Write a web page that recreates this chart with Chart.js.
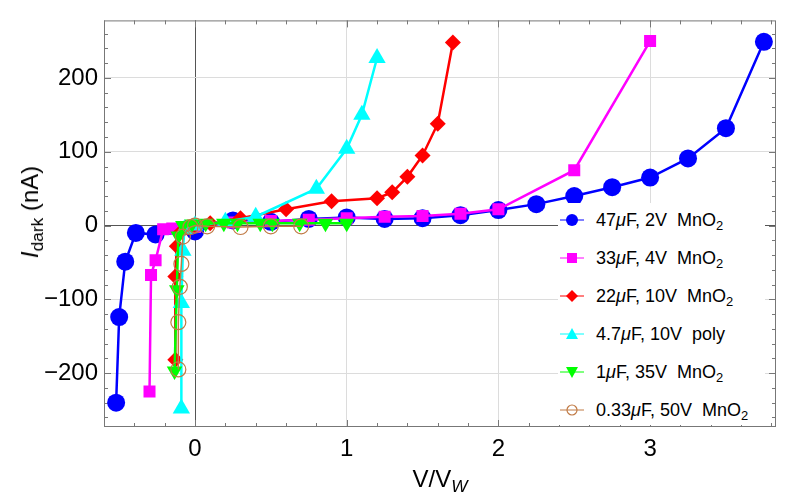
<!DOCTYPE html>
<html>
<head>
<meta charset="utf-8">
<script src="https://cdn.jsdelivr.net/npm/chart.js@4.4.1/dist/chart.umd.min.js"></script>
<style>
  body { margin: 0; background: #fff; font-family: "Liberation Sans", Arial, sans-serif; }
  #wrap { position: relative; width: 789px; height: 501px; }
  #ytitle { position: absolute; left: 30px; top: 212px; transform: translate(-50%, -50%) rotate(-90deg); font-size: 24px; white-space: nowrap; }
  #xtitle { position: absolute; left: 440px; top: 479px; transform: translate(-50%, -50%); font-size: 24px; white-space: nowrap; }
  #legend { position: absolute; left: 558px; top: 203px; width: 207px; height: 222px; background: #fff; font-size: 18px; }
  .row { position: absolute; left: 2px; height: 26px; display: flex; align-items: center; white-space: nowrap; }
  .row svg { margin-right: 12px; }
  sub { font-size: 72%; vertical-align: -0.3em; line-height: 0; }
</style>
</head>
<body>
<div id="wrap">
  <canvas id="chart" width="789" height="501"></canvas>
  <div id="ytitle"><i>I</i><sub>dark</sub> (nA)</div>
  <div id="xtitle">V/V<sub><i>W</i></sub></div>
  <div id="legend"></div>
</div>
<script>
// series labels (html for the legend)
var seriesLabels = [
  '47<i>μ</i>F, 2V&nbsp; MnO<sub>2</sub>',
  '33<i>μ</i>F, 4V&nbsp; MnO<sub>2</sub>',
  '22<i>μ</i>F, 10V&nbsp; MnO<sub>2</sub>',
  '4.7<i>μ</i>F, 10V&nbsp; poly',
  '1<i>μ</i>F, 35V&nbsp; MnO<sub>2</sub>',
  '0.33<i>μ</i>F, 50V&nbsp; MnO<sub>2</sub>'
];
var seriesNames = ['47μF, 2V MnO2', '33μF, 4V MnO2', '22μF, 10V MnO2', '4.7μF, 10V poly', '1μF, 35V MnO2', '0.33μF, 50V MnO2'];

// [V/Vw, I_dark nA]
var cap47 = [[-0.52,-240],[-0.5,-124],[-0.46,-49],[-0.39,-10],[-0.26,-12],[0,-8],[0.25,7],[0.5,5],[0.75,9],
  [1.0,11],[1.25,9],[1.5,10],[1.75,14],[2.0,21],[2.25,29],[2.5,40],[2.75,52],[3.0,65],[3.25,91],[3.5,132],[3.75,249]];
var cap33 = [[-0.3,-225],[-0.29,-67],[-0.26,-47],[-0.21,-5],[-0.15,-4],[0,-2],[0.25,4],[0.5,6],[0.75,8],
  [1.0,10],[1.25,12],[1.5,13],[1.75,16],[2.0,22],[2.5,75],[3.0,250]];
var cap22 = [[-0.13,-182],[-0.13,-69],[-0.12,-28],[-0.1,-10],[-0.05,-3],[0,0],[0.1,3],[0.3,10],[0.6,22],
  [0.9,33],[1.2,37],[1.3,45],[1.4,66],[1.5,95],[1.6,138],[1.7,248]];
var cap4_7 = [[-0.09,-248],[-0.09,-105],[-0.08,-34],[-0.07,-5],[0,0],[0.2,5],[0.4,12],[0.8,50],[1.0,104],[1.1,150],[1.2,227]];
var cap1 = [[-0.135,-197],[-0.12,-87],[-0.11,-14],[-0.08,0],[-0.02,2],[0.07,3],[0.19,3],[0.28,3],[0.43,3],
  [0.51,3],[0.69,3],[0.86,3],[1.0,3]];
var cap0_33 = [[-0.11,-195],[-0.11,-131],[-0.1,-83],[-0.09,-52],[-0.08,-15],[-0.03,-2],[0,0],[0.08,-1],[0.3,-2],[0.5,-1],[0.7,-1]];

var xTicks = [0, 1, 2, 3];
var yTicks = [-200, -100, 0, 100, 200];

var colors = ['#0000ff', '#ff00ff', '#ff0000', '#00ffff', '#00ff00', '#c07a45'];
var styles = ['circle', 'rect', 'rectRot', 'triangle', 'triangle', 'circle'];
var sizes = [9, 8.5, 8, 10, 9, 7.5];
var rots = [0, 0, 0, 0, 180, 0];
var allData = [cap47, cap33, cap22, cap4_7, cap1, cap0_33];

var datasets = allData.map(function(d, i) {
  var open = i === 5;
  return {
    label: seriesNames[i],
    data: d.map(function(p) { return { x: p[0], y: p[1] }; }),
    showLine: true,
    borderColor: colors[i],
    backgroundColor: open ? 'rgba(0,0,0,0)' : colors[i],
    borderWidth: open ? 1.5 : 2.5,
    pointStyle: styles[i],
    pointRotation: rots[i],
    pointRadius: sizes[i],
    pointBorderWidth: open ? 1.2 : 0,
    pointBorderColor: colors[i],
    pointBackgroundColor: open ? 'rgba(0,0,0,0)' : colors[i],
    tension: 0,
    order: 5 - i
  };
});

// frame with inward ticks, like the original
var framePlugin = {
  id: 'frame',
  beforeDatasetsDraw: function(chart) {
    var ctx = chart.ctx, a = chart.chartArea, x = chart.scales.x, y = chart.scales.y;
    ctx.save();
    ctx.strokeStyle = '#777';
    ctx.lineWidth = 1;
    ctx.strokeRect(a.left + 0.5, a.top + 0.5, a.right - a.left - 1, a.bottom - a.top - 1);
    ctx.beginPath();
    for (var i = -3; i <= 19; i++) {
      var px = Math.round(x.getPixelForValue(i * 0.2)) + 0.5;
      var len = i % 5 === 0 ? 7 : 4;
      ctx.moveTo(px, a.bottom); ctx.lineTo(px, a.bottom - len);
      ctx.moveTo(px, a.top); ctx.lineTo(px, a.top + len);
    }
    for (var j = -13; j <= 13; j++) {
      var py = Math.round(y.getPixelForValue(j * 20)) + 0.5;
      var l2 = j % 5 === 0 ? 7 : 4;
      ctx.moveTo(a.left, py); ctx.lineTo(a.left + l2, py);
      ctx.moveTo(a.right, py); ctx.lineTo(a.right - l2, py);
    }
    ctx.stroke();
    ctx.restore();
  }
};

var gridColor = function(c) { return c.tick && c.tick.value === 0 ? '#555' : '#dcdcdc'; };

new Chart(document.getElementById('chart'), {
  type: 'scatter',
  data: { datasets: datasets },
  options: {
    responsive: false,
    animation: false,
    layout: { autoPadding: false, padding: { top: 12, right: 13, left: 0, bottom: 0 } },
    plugins: { legend: { display: false }, tooltip: { enabled: false } },
    scales: {
      x: {
        type: 'linear', min: -0.6, max: 3.83,
        afterBuildTicks: function(s) { s.ticks = xTicks.map(function(v) { return { value: v }; }); },
        afterFit: function(s) { s.height = 74; },
        grid: { color: gridColor, drawTicks: false, lineWidth: 1 },
        border: { display: false },
        ticks: { padding: 8, color: '#000', font: { size: 24, family: '"Liberation Sans", Arial, sans-serif' },
          callback: function(v) { return String(v); } }
      },
      y: {
        type: 'linear', min: -273, max: 278,
        afterBuildTicks: function(s) { s.ticks = yTicks.map(function(v) { return { value: v }; }); },
        afterFit: function(s) { s.width = 104; },
        grid: { color: gridColor, drawTicks: false, lineWidth: 1 },
        border: { display: false },
        ticks: { padding: 6, color: '#000', font: { size: 24, family: '"Liberation Sans", Arial, sans-serif' },
          callback: function(v) { return v < 0 ? '\u2212' + Math.abs(v) : String(v); } }
      }
    }
  },
  plugins: [framePlugin]
});

// html legend (needs italic mu and subscripts)
function markerSvg(i) {
  var c = colors[i], s = '';
  if (i === 0) s = '<circle cx="12" cy="8" r="6" fill="' + c + '"/>';
  if (i === 1) s = '<rect x="7" y="3" width="10" height="10" fill="' + c + '"/>';
  if (i === 2) s = '<polygon points="12,2 18,8 12,14 6,8" fill="' + c + '"/>';
  if (i === 3) s = '<polygon points="12,2 18,13 6,13" fill="' + c + '"/>';
  if (i === 4) s = '<polygon points="6,3 18,3 12,14" fill="' + c + '"/>';
  if (i === 5) s = '<circle cx="12" cy="8" r="5" fill="none" stroke="' + c + '" stroke-width="1.2"/>';
  return '<svg width="24" height="16"><line x1="0" y1="8" x2="24" y2="8" stroke="' + c + '" stroke-width="1"/>' + s + '</svg>';
}
var leg = document.getElementById('legend');
seriesLabels.forEach(function(lab, i) {
  var row = document.createElement('div');
  row.className = 'row';
  row.style.top = (4 + i * 38) + 'px';
  row.innerHTML = markerSvg(i) + '<span>' + lab + '</span>';
  leg.appendChild(row);
});
</script>
</body>
</html>
